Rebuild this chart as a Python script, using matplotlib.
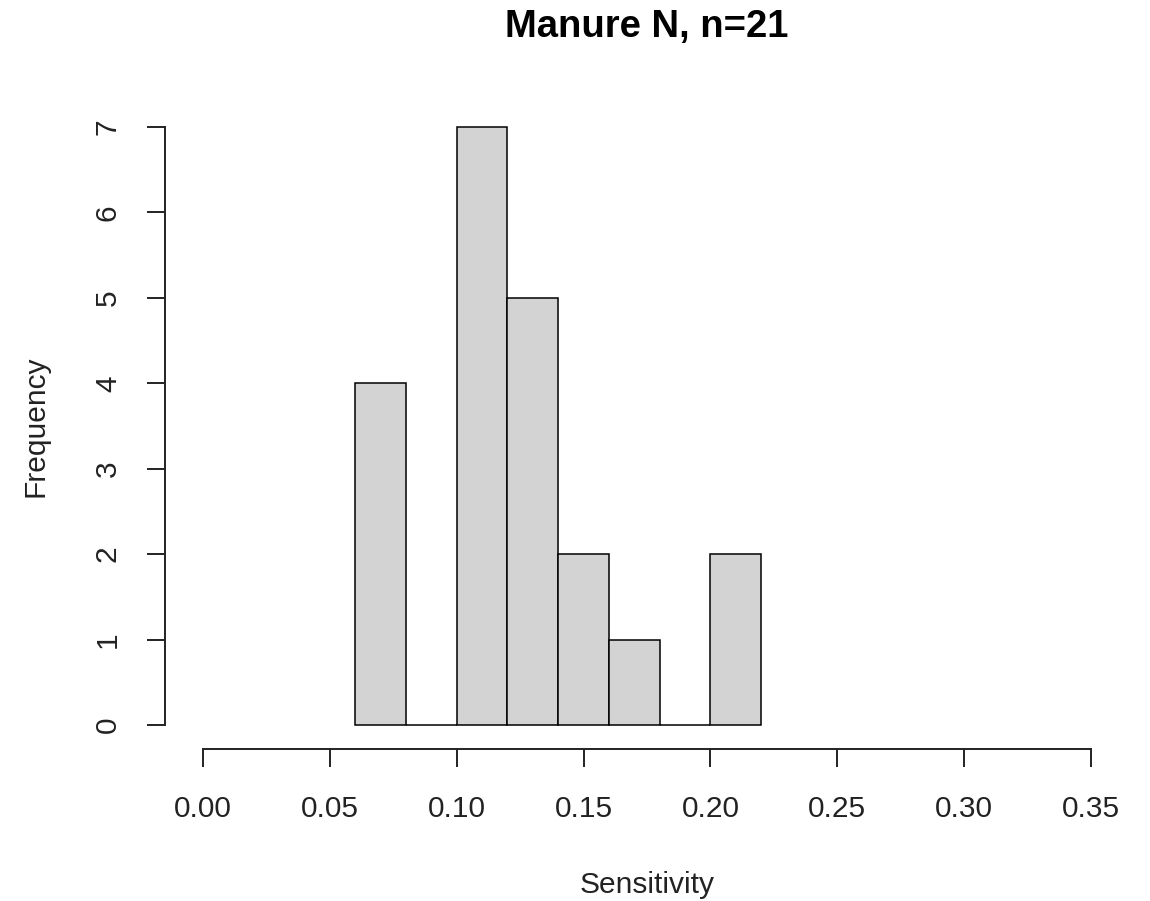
import matplotlib
matplotlib.use("Agg")
import matplotlib.pyplot as plt
import numpy as np

bin_edges = [0.06, 0.08, 0.10, 0.12, 0.14, 0.16, 0.18, 0.20, 0.22]
counts = [4, 0, 7, 5, 2, 1, 0, 2]
x_ticks = [0.00, 0.05, 0.10, 0.15, 0.20, 0.25, 0.30, 0.35]
x_tick_labels = ["0.00", "0.05", "0.10", "0.15", "0.20", "0.25", "0.30", "0.35"]
y_ticks = [0, 1, 2, 3, 4, 5, 6, 7]
title = "Manure N, n=21"

plt.rcParams['font.family'] = ['Liberation Sans', 'DejaVu Sans']

W, H = 1150, 901
fig = plt.figure(figsize=(W / 100, H / 100), dpi=100)
L, R, T, B = 165, 1129, 103, 749
ax = fig.add_axes([L / W, 1 - B / H, (R - L) / W, (B - T) / H])

widths = np.diff(bin_edges)
ax.bar(bin_edges[:-1], counts, width=widths, align='edge',
       facecolor='#D3D3D3', edgecolor='black', linewidth=1.1)

ax.set_xlim(-0.015, 0.365)
ax.set_ylim(-0.28, 7.28)

for s in ['top', 'right']:
    ax.spines[s].set_visible(False)
ax.spines['left'].set_bounds(0, 7)
ax.spines['bottom'].set_bounds(0, 0.35)
for s in ['left', 'bottom']:
    ax.spines[s].set_linewidth(1.4)
    ax.spines[s].set_color('#222222')

ax.set_xticks(x_ticks)
ax.set_xticklabels(x_tick_labels)
ax.set_yticks(y_ticks)
ax.tick_params(axis='both', length=13, width=1.4, color='#222222',
               labelsize=21.5, labelcolor='#222222')
ax.tick_params(axis='x', pad=20)
ax.tick_params(axis='y', pad=18)
for lab in ax.get_yticklabels():
    lab.set_rotation(90)
    lab.set_va('center')

fig.text(647 / W, 1 - 27 / H, title, ha='center', va='center',
         fontsize=27.5, fontweight='bold', color='black')
fig.text(647 / W, 1 - 885 / H, "Sensitivity", ha='center', va='center',
         fontsize=21.5, color='#222222')
fig.text(35 / W, 1 - 426 / H, "Frequency", ha='center', va='center',
         rotation=90, fontsize=21.5, color='#222222')

fig.savefig("out.png", dpi=100, facecolor='white')
